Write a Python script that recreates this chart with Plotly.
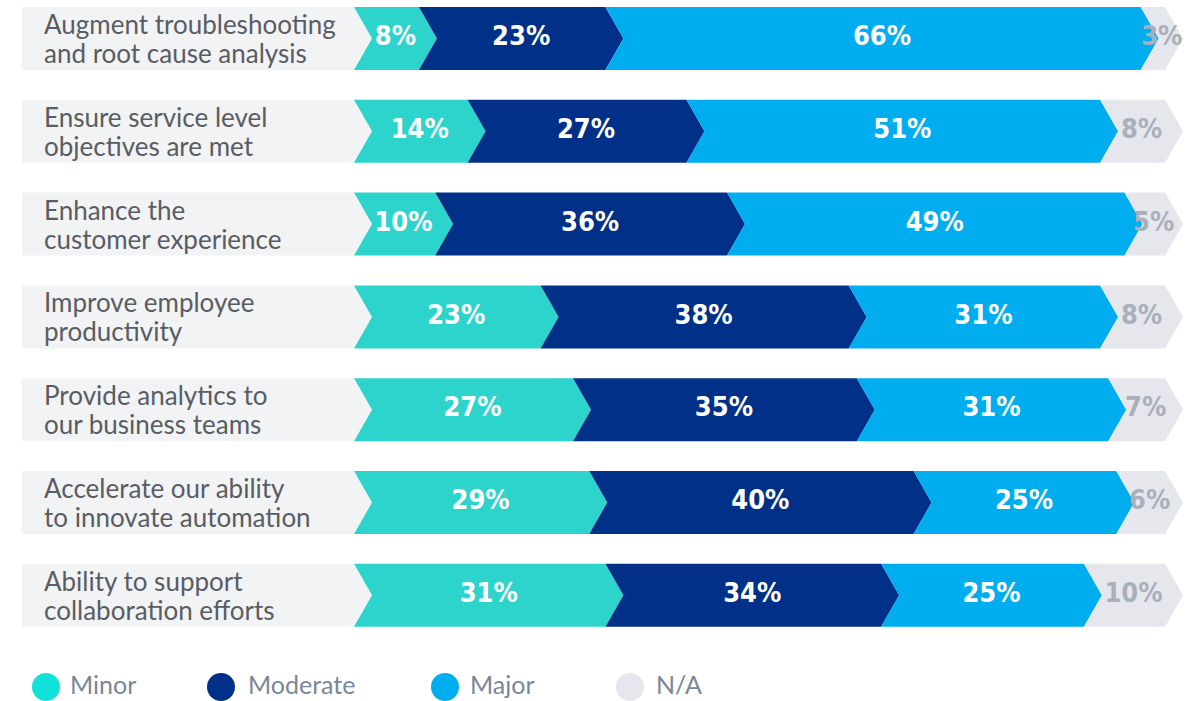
import plotly.graph_objects as go

# Survey results: share of respondents by impact level for each use case
categories = [
    "Augment troubleshooting<br>and root cause analysis",
    "Ensure service level<br>objectives are met",
    "Enhance the<br>customer experience",
    "Improve employee<br>productivity",
    "Provide analytics to<br>our business teams",
    "Accelerate our ability<br>to innovate automation",
    "Ability to support<br>collaboration efforts",
]
minor = [8, 14, 10, 23, 27, 29, 31]
moderate = [23, 27, 36, 38, 35, 40, 34]
major = [66, 51, 49, 31, 31, 25, 25]
not_applicable = [3, 8, 5, 8, 7, 6, 10]

series_names = ["Minor", "Moderate", "Major", "N/A"]
series_values = [minor, moderate, major, not_applicable]
series_colors = ["#2dd4cb", "#003087", "#00aeef", "#e6e7ec"]
legend_colors = ["#10e2d9", "#003087", "#00aeef", "#e6e7ec"]
label_colors = ["#ffffff", "#ffffff", "#ffffff", "#a9b0bb"]

VALUE_FONT = "DejaVu Sans Condensed, Liberation Sans Narrow, Roboto, sans-serif"
TEXT_FONT = "Lato, sans-serif"

# Geometry (axis units): x in percent, y in row index
W, H = 1191, 701
PX_PER_PCT = 8.11
BAR_LEFT_PX = 354
ROW_TOP_PX = 38.5
ROW_PITCH_PX = 92.8
HALF = 31.5 / ROW_PITCH_PX          # half bar height
TIP = 18 / PX_PER_PCT               # chevron depth
PANEL_LEFT = (22 - BAR_LEFT_PX) / PX_PER_PCT

x_range = [-BAR_LEFT_PX / PX_PER_PCT, (W - BAR_LEFT_PX) / PX_PER_PCT]
y_range = [(H - ROW_TOP_PX) / ROW_PITCH_PX, -ROW_TOP_PX / ROW_PITCH_PX]

fig = go.Figure()


def chevron(x0, x1, y, notch=True):
    xs = [x0, x1, x1 + TIP, x1, x0]
    ys = [y - HALF, y - HALF, y, y + HALF, y + HALF]
    if notch:
        xs.append(x0 + TIP)
        ys.append(y)
    xs.append(x0)
    ys.append(y - HALF)
    return xs, ys


for i, cat in enumerate(categories):
    # label panel behind the category text
    px_, py_ = chevron(PANEL_LEFT, 0, i, notch=False)
    fig.add_trace(go.Scatter(x=px_, y=py_, fill="toself", fillcolor="#f2f3f5",
                             line=dict(width=0), mode="lines",
                             hoverinfo="skip", showlegend=False))
    start = 0
    for s, vals in enumerate(series_values):
        v = vals[i]
        xs, ys = chevron(start, start + v, i)
        fig.add_trace(go.Scatter(x=xs, y=ys, fill="toself",
                                 fillcolor=series_colors[s],
                                 line=dict(width=0), mode="lines",
                                 hoverinfo="skip", showlegend=False))
        fig.add_trace(go.Scatter(
            x=[start + v / 2 + TIP / 2], y=[i], mode="text",
            text=[f"{v}%"],
            textfont=dict(family=VALUE_FONT, size=27,
                          color=label_colors[s], weight="bold"),
            textposition="middle center", hoverinfo="skip", showlegend=False))
        start += v

    # two-line category label with tight line spacing
    for k, line in enumerate(cat.split("<br>")):
        fig.add_annotation(x=(42 - BAR_LEFT_PX) / PX_PER_PCT, y=i,
                           xref="x", yref="y", text=line, showarrow=False,
                           xanchor="left", yanchor="middle",
                           yshift=14.5 - 29 * k,
                           font=dict(family=TEXT_FONT, size=26, color="#595d63"))

# Legend drawn along the bottom edge
legend_circle_px = [46, 221, 445, 630]
legend_text_px = [68, 246, 468, 654]
legend_circle_y_px = 687
legend_text_y_px = 684
for name, col, cx, tx in zip(series_names, legend_colors, legend_circle_px, legend_text_px):
    fig.add_shape(type="circle", xref="paper", yref="paper",
                  xsizemode="pixel", ysizemode="pixel",
                  xanchor=cx / W, yanchor=1 - legend_circle_y_px / H,
                  x0=-14, x1=14, y0=-14, y1=14,
                  fillcolor=col, line=dict(width=0))
    fig.add_annotation(x=tx / W, y=1 - legend_text_y_px / H, xref="paper", yref="paper",
                       text=name, showarrow=False, xanchor="left", yanchor="middle",
                       font=dict(family=TEXT_FONT, size=25, color="#7b8698"))

fig.update_layout(
    width=W, height=H,
    margin=dict(l=0, r=0, t=0, b=0),
    paper_bgcolor="white", plot_bgcolor="white",
    xaxis=dict(range=x_range, visible=False, fixedrange=True),
    yaxis=dict(range=y_range, visible=False, fixedrange=True),
    showlegend=False,
)

fig.write_html("out.html")
